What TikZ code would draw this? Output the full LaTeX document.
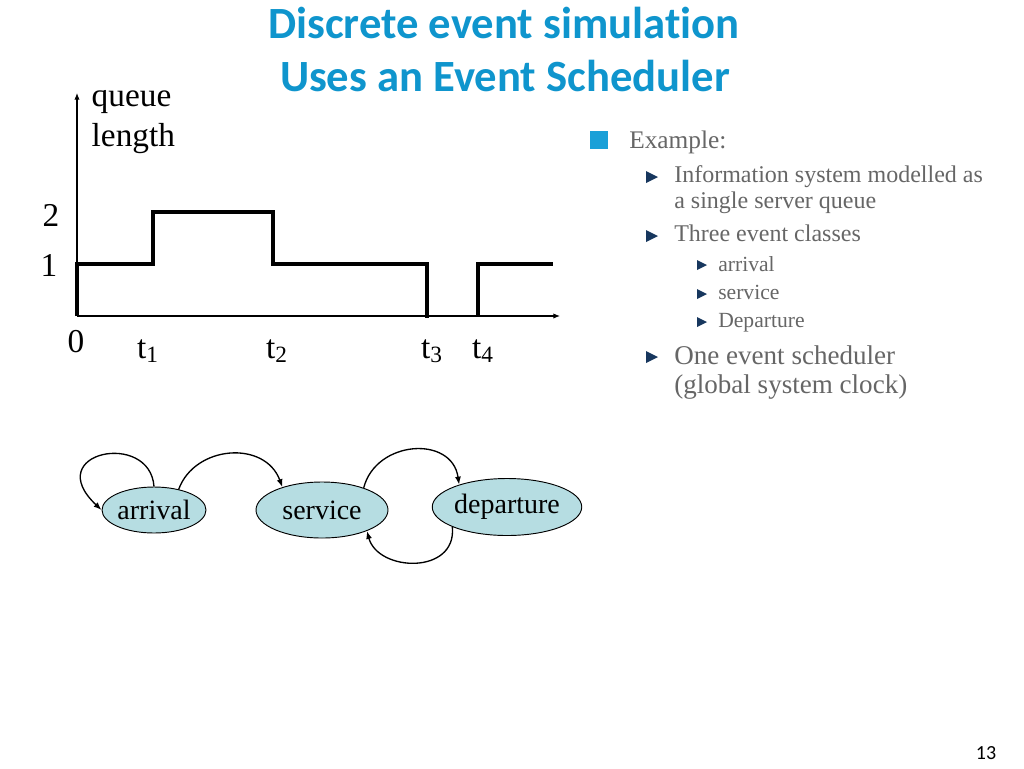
\documentclass[tikz,border=0pt]{standalone}
\usepackage{fontspec}
\setmainfont{Liberation Serif}
\newfontfamily\titlefont[Ligatures=NoCommon]{Carlito}
\usepackage{tikz}
\usetikzlibrary{arrows.meta,shapes.geometric}
\definecolor{title}{HTML}{0F95CD}
\definecolor{body}{HTML}{666666}
\definecolor{navy}{HTML}{17375E}
\definecolor{sqcol}{HTML}{1AA0D8}
\definecolor{evfill}{HTML}{B6DDE2}
\tikzset{
  axis/.style={draw=black, line width=0.8pt, -{Latex[length=5pt,width=4pt]}},
  qcurve/.style={draw=black, line width=3pt, line join=miter},
  ev/.style={ellipse, draw=black, line width=0.7pt, fill=evfill, inner sep=0pt, font=\fontsize{21}{25}\selectfont},
  conn/.style={draw=black, line width=1pt, -{Latex[length=6pt,width=4.5pt]}},
  plab/.style={anchor=base, font=\fontsize{25}{30}\selectfont},
  hd/.style={anchor=base, text=title, font=\titlefont\bfseries\fontsize{33.5}{40}\selectfont},
  lvA/.style={anchor=base west, text=body, inner sep=0pt, font=\fontsize{19}{23}\selectfont},
  lvS/.style={anchor=base west, text=body, inner sep=0pt, font=\fontsize{20.3}{24}\selectfont},
  lvB/.style={anchor=base west, text=body, inner sep=0pt, font=\fontsize{18}{22}\selectfont},
  lvC/.style={anchor=base west, text=body, inner sep=0pt, font=\fontsize{16.2}{19}\selectfont},
  sqb/.style={fill=sqcol, inner sep=0pt, minimum size=13.5pt},
}
\begin{document}
\begin{tikzpicture}[x=0.75pt,y=-0.75pt]
  \useasboundingbox (0,0) rectangle (1024,768);
  % title
  \node[hd] (h1) at (504,38) {Discrete event simulation};
  \node[hd] (h2) at (505,91) {Uses an Event Scheduler};
  % queue length plot
  \coordinate (O) at (77,316);
  \coordinate (ytop) at (77,93);
  \coordinate (xend) at (560,316);
  \draw[axis] (O) -- (ytop);
  \draw[axis] (O) -- (xend);
  \draw[qcurve] (77,316) -- (77,264) -- (153,264) -- (153,212) -- (273,212)
    -- (273,264) -- (427,264) -- (427,318);
  \draw[qcurve] (478,316) -- (478,264) -- (553,264);
  \node[plab,anchor=base west] (ql1) at (87,106) {queue};
  \node[plab,anchor=base west] (ql2) at (87,146) {length};
  \node[plab] (y2) at (51,226) {2};
  \node[plab] (y1) at (49,276) {1};
  \node[plab] (x0) at (76,352) {0};
  \foreach \x/\i in {148/1,277/2,432/3,483/4}
    \node[plab] (t\i) at (\x,358) {t\textsubscript{\i}};
  % event classes
  \node[ev, minimum width=78pt, minimum height=34.5pt] (arr) at (154,510) {arrival};
  \node[ev, minimum width=99pt, minimum height=42pt] (srv) at (322,510) {service};
  \node[ev, minimum width=109.5pt, minimum height=42.75pt] (dep) at (507,507) {departure};
  \draw[conn] (arr.90) .. controls (150,430) and (40,452) .. (arr.180);
  \draw[conn] (arr.40) .. controls (195,445) and (265,440) .. (srv.150);
  \draw[conn] (srv.28) .. controls (376,440) and (452,435) .. (dep.155);
  \draw[conn] (dep.200) .. controls (457,575) and (378,572) .. (srv.335);
  % bullet list
  \node[sqb] (b0) at (599,140) {};
  \foreach \y in {177,236,357}
    \fill[navy] (646,\y-6) -- (658,\y) -- (646,\y+6) -- cycle;
  \foreach \y in {265,294,322}
    \fill[navy] (697,\y-5) -- (707,\y) -- (697,\y+5) -- cycle;
  \node[lvA] (ex) at (629,148) {Example:};
  \node[lvB] (inf1) at (674,182) {Information system modelled as};
  \node[lvB] (inf2) at (674,208) {a single server queue};
  \node[lvB] (cls) at (674,241) {Three event classes};
  \node[lvC] (c1) at (718,271) {arrival};
  \node[lvC] (c2) at (718,299) {service};
  \node[lvC] (c3) at (718,327) {Departure};
  \node[lvS] (sch1) at (674,364) {One event scheduler};
  \node[lvS] (sch2) at (674,393) {(global system clock)};
  % page number
  \node[anchor=base, font=\titlefont\fontsize{15}{18}\selectfont] (pg) at (986,759) {13};
\end{tikzpicture}
\end{document}
